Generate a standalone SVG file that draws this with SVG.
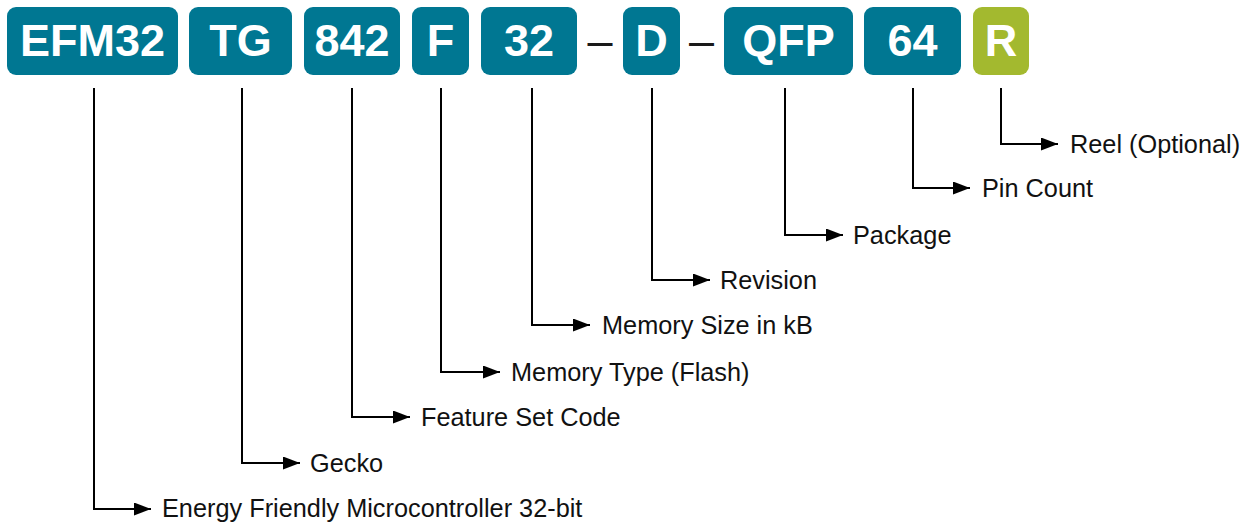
<svg xmlns="http://www.w3.org/2000/svg" width="1245" height="525" viewBox="0 0 1245 525">
<style>
.box{fill:#007792}
.opt{fill:#a3b92f}
.bt{font-family:"Liberation Sans",Arial,sans-serif;font-weight:bold;font-size:45px;fill:#ffffff;text-anchor:middle}
.dash{font-family:"Liberation Sans",Arial,sans-serif;font-size:45px;fill:#1a1a1a;text-anchor:middle}
.lbl{font-family:"Liberation Sans",Arial,sans-serif;font-size:25.3px;fill:#111111}
.conn{fill:none;stroke:#000000;stroke-width:2}
</style>
<defs>
<marker id="arr" markerUnits="userSpaceOnUse" markerWidth="18" markerHeight="13" refX="17" refY="6.5" orient="auto">
<path d="M0,0 L17,6.5 L0,13 z" fill="#000000"/>
</marker>
</defs>
<rect width="1245" height="525" fill="#ffffff"/>
<g id="n-efm32"><rect class="box" x="7" y="7" width="171" height="68" rx="9"/><text class="bt" x="92.5" y="56">EFM32</text></g>
<g id="n-tg"><rect class="box" x="189" y="7" width="103" height="68" rx="9"/><text class="bt" x="240.5" y="56">TG</text></g>
<g id="n-842"><rect class="box" x="304" y="7" width="96" height="68" rx="9"/><text class="bt" x="352" y="56">842</text></g>
<g id="n-f"><rect class="box" x="412" y="7" width="57" height="68" rx="9"/><text class="bt" x="440.5" y="56">F</text></g>
<g id="n-32"><rect class="box" x="481" y="7" width="96" height="68" rx="9"/><text class="bt" x="529" y="56">32</text></g>
<g id="n-dash1"><text class="dash" x="600" y="56">–</text></g>
<g id="n-d"><rect class="box" x="623" y="7" width="57" height="68" rx="9"/><text class="bt" x="651.5" y="56">D</text></g>
<g id="n-dash2"><text class="dash" x="701.5" y="56">–</text></g>
<g id="n-qfp"><rect class="box" x="724" y="7" width="129" height="68" rx="9"/><text class="bt" x="788.5" y="56">QFP</text></g>
<g id="n-64"><rect class="box" x="864" y="7" width="97" height="68" rx="9"/><text class="bt" x="912.5" y="56">64</text></g>
<g id="n-r"><rect class="opt" x="973" y="7" width="56" height="68" rx="9"/><text class="bt" x="1001" y="56">R</text></g>
<g id="connectors">
<path class="conn" d="M94,88 V509 H151" marker-end="url(#arr)"/>
<path class="conn" d="M242,88 V463 H300" marker-end="url(#arr)"/>
<path class="conn" d="M352,88 V417 H410" marker-end="url(#arr)"/>
<path class="conn" d="M441,88 V372 H500" marker-end="url(#arr)"/>
<path class="conn" d="M532,88 V325 H590" marker-end="url(#arr)"/>
<path class="conn" d="M652,88 V280 H710" marker-end="url(#arr)"/>
<path class="conn" d="M785,88 V235 H843" marker-end="url(#arr)"/>
<path class="conn" d="M913,88 V188 H970" marker-end="url(#arr)"/>
<path class="conn" d="M1001,88 V144 H1058" marker-end="url(#arr)"/>
</g>
<g id="labels">
<text class="lbl" x="162" y="517">Energy Friendly Microcontroller 32-bit</text>
<text class="lbl" x="310" y="472">Gecko</text>
<text class="lbl" x="421" y="426">Feature Set Code</text>
<text class="lbl" x="511" y="381">Memory Type (Flash)</text>
<text class="lbl" x="602" y="334">Memory Size in kB</text>
<text class="lbl" x="720" y="289">Revision</text>
<text class="lbl" x="853" y="244">Package</text>
<text class="lbl" x="982" y="197">Pin Count</text>
<text class="lbl" x="1070" y="153">Reel (Optional)</text>
</g>
</svg>
